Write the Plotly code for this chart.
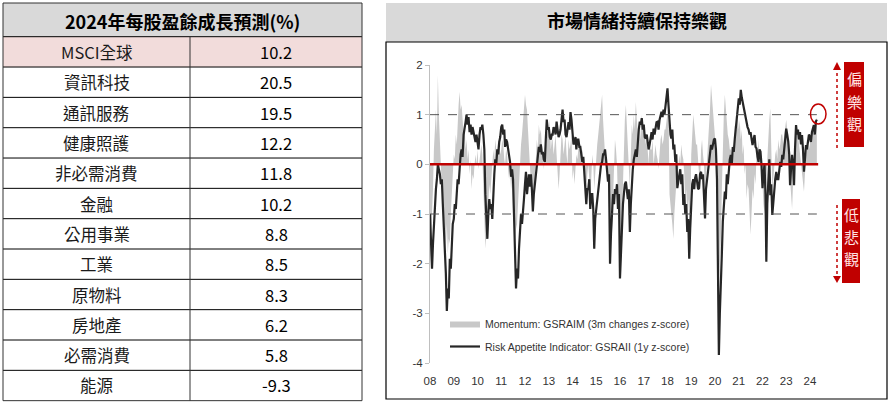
import plotly.graph_objects as go
import pandas as pd

W, H = 890, 402

# table data
table_title = "2024年每股盈餘成長預測(%)"
sectors = ["MSCI全球", "資訊科技", "通訊服務", "健康照護", "非必需消費", "金融",
           "公用事業", "工業", "原物料", "房地產", "必需消費", "能源"]
eps_growth = [10.2, 20.5, 19.5, 12.2, 11.8, 10.2, 8.8, 8.5, 8.3, 6.2, 5.8, -9.3]

# chart data, twice a month from Jan 2008
chart_title = "市場情緒持續保持樂觀"
risk_appetite = [
    # 2008
    -1.0, -1.5, -2.1, -1.6, -1.2, -0.9, -0.5, -0.3, 0.0, -0.1, -0.2, -0.4,
    -0.3, -0.8, -1.2, -1.6, -2.2, -2.95, -2.5, -2.7, -1.9, -2.1, -1.4, -1.2,
    # 2009
    -1.1, -0.8, -0.9, -0.5, -0.3, -0.4, 0.0, 0.2, 0.3, 0.15, 0.6, 0.7,
    0.85, 1.0, 0.8, 0.95, 0.65, 0.8, 0.6, 0.75, 0.65, 0.5, 0.45, 0.6,
    # 2010
    0.4, 0.3, 0.6, 0.75, 0.7, 0.8, 0.6, 0.3, -0.6, -1.15, -1.5, -1.0,
    -0.7, -0.9, -0.8, -1.1, -0.5, -0.2, 0.1, 0.0, 0.3, 0.2, 0.45, 0.55,
    # 2011
    0.75, 0.8, 0.6, 0.7, 0.35, 0.5, 0.45, 0.3, 0.15, 0.05, -0.25, -0.1,
    -0.3, -1.1, -1.9, -2.5, -2.1, -2.3, -1.7, -1.2, -1.0, -1.2, -0.8, -0.7,
    # 2012
    -0.4, -0.15, -0.6, -0.3, -0.2, -0.45, -0.2, -0.5, -0.95, -0.6, -0.4, -0.2,
    0.0, 0.2, 0.35, 0.25, 0.4, 0.2, 0.25, 0.1, 0.05, 0.5, 0.9, 0.7,
    # 2013
    0.75, 0.55, 0.5, 0.6, 0.6, 0.75, 0.7, 0.6, 0.86, 0.7, 0.55, 0.6,
    0.7, 0.9, 1.1, 0.85, 0.9, 0.6, 0.55, 0.7, 0.85, 0.7, 1.05, 0.9,
    # 2014
    0.6, 0.4, 0.45, 0.55, 0.3, 0.5, 0.5, 0.35, 0.35, 0.2, 0.05, 0.15,
    -0.15, -0.4, -0.8, -0.5, -0.5, -0.3, -0.9, -0.6, -0.6, -0.9, -1.7, -1.1,
    # 2015
    -0.9, -0.7, -0.5, -0.3, -0.2, 0.0, 0.05, 0.2, 0.2, 0.3, 0.1, -0.1,
    -0.35, -0.2, -2.0, -1.4, -1.0, -0.6, -0.8, -0.5, -0.6, -0.4, -0.9, -0.6,
    # 2016
    -2.3, -1.8, -1.1, -0.8, -0.6, -0.4, -0.35, -0.5, -0.7, -0.5, -1.36, -0.8,
    -0.35, -0.1, 0.1, 0.2, 0.3, 0.15, 0.5, 0.7, 0.86, 0.8, 0.93, 0.7,
    # 2017
    0.8, 0.55, 0.52, 0.6, 0.46, 0.3, 0.4, 0.55, 0.65, 0.5, 0.72, 0.6,
    0.75, 0.85, 0.86, 0.7, 0.9, 1.0, 1.06, 0.95, 1.1, 1.0, 1.19, 1.3,
    # 2018
    1.53, 1.2, 0.86, 0.6, 0.52, 0.7, 0.3, 0.4, 0.05, 0.2, -0.48, -0.3,
    -0.22, -0.1, -0.4, -0.2, -0.82, -0.6, -1.0, -0.8, -1.36, -1.1, -1.9, -1.3,
    # 2019
    -0.62, -0.4, -0.3, -0.5, -0.28, -0.2, -0.35, -0.5, -0.48, -0.2, -0.15, -0.3,
    -0.2, -0.6, -1.09, -0.5, -0.3, -0.1, 0.0, 0.2, 0.39, 0.3, 0.45, 0.5,
    # 2020
    0.52, 0.3, -0.3, -1.8, -3.84, -3.0, -2.5, -1.8, -1.15, -0.9, -0.55, -0.7,
    -0.2, -0.4, 0.0, 0.1, 0.19, 0.0, 0.35, 0.25, 0.52, 0.7, 0.86, 1.0,
    # 2021
    1.33, 1.2, 1.5, 1.35, 1.26, 1.1, 1.05, 0.9, 0.86, 0.75, 0.7, 0.6,
    0.65, 0.45, 0.39, 0.5, 0.59, 0.35, 0.32, 0.15, 0.05, 0.3, 0.26, 0.0,
    # 2022
    -0.48, -0.2, 0.0, -0.6, -1.96, -0.8, -0.35, 0.1, -0.62, -0.4, -1.02, -0.7,
    -0.48, -0.3, -0.15, -0.3, -0.3, -0.1, 0.05, -0.05, 0.19, 0.1, 0.3, 0.4,
    # 2023
    0.72, 0.6, 0.46, 0.2, -0.42, -0.1, 0.19, 0.0, -0.42, 0.3, 0.79, 0.6,
    0.7, 0.5, 0.65, 0.4, 0.59, 0.3, -0.15, 0.1, 0.39, 0.3, 0.46, 0.6,
    # 2024
    0.55, 0.45, 0.65, 0.75, 0.79, 0.6, 0.86, 0.9,
]
momentum = [
    # 2008
    -2.0, -1.6, -1.2, -0.5, 0.3, 0.7, 1.1, 0.6, 1.8, 1.0, 0.4, 0.0,
    -0.5, -0.8, -1.0, -1.4, -1.7, -1.2, -1.8, -1.5, -1.6, -1.0, -0.6, -0.2,
    # 2009
    0.2, 0.1, 0.6, 0.4, 1.0, 1.2, 1.46, 1.1, 1.2, 0.8, 0.6, 0.8,
    0.3, 0.5, 0.1, 0.3, -0.2, 0.1, -0.5, -0.2, -0.3, 0.0, 0.2, 0.0,
    # 2010
    0.3, -0.1, 0.1, 0.3, 0.4, 0.2, -0.5, -1.0, -1.7, -1.4, -1.3, -0.8,
    -0.4, -0.6, -0.2, 0.1, 0.3, 0.1, 0.5, 0.3, 0.3, 0.5, 0.4, 0.2,
    # 2011
    0.3, 0.5, 0.4, 0.1, 0.0, 0.3, 0.2, -0.1, -0.3, -0.1, -0.5, -0.3,
    -1.0, -0.7, -1.5, -1.3, -1.2, -0.8, -0.3, 0.0, 0.4, 0.6, 0.9, 1.1,
    # 2012
    1.4, 1.2, 1.1, 0.7, 0.3, 0.0, -0.4, -0.6, -0.8, -0.5, -0.3, 0.1,
    0.5, 0.3, 0.8, 0.6, 0.7, 0.4, 0.3, -0.1, 0.1, 0.3, 0.5, 0.7,
    # 2013
    0.6, 0.9, 0.3, 0.5, 0.5, 0.2, 0.4, 0.6, 0.2, -0.1, -0.5, -0.2,
    0.3, 0.6, 0.5, 0.2, 0.4, 0.6, 0.2, 0.0, 0.5, 0.3, 0.4, 0.6,
    # 2014
    -0.3, -0.1, -0.4, 0.0, 0.2, 0.1, 0.3, 0.5, 0.4, 0.2, 0.3, 0.1,
    -0.2, -0.4, -0.6, -0.2, 0.0, -0.3, -0.7, -0.3, 0.2, 0.0, -0.5, -0.2,
    # 2015
    0.2, 0.4, 0.6, 0.8, 1.0, 1.2, 1.4, 0.9, 0.5, 0.2, 0.0, -0.2,
    -0.4, -0.9, -1.8, -1.5, -1.3, -0.7, 0.2, 0.5, 0.3, 0.0, -0.8, -1.1,
    # 2016
    -1.5, -1.4, -1.2, -0.4, 0.6, 0.9, 1.2, 0.8, 0.4, 0.0, -0.5, 0.2,
    0.8, 0.6, 1.0, 0.7, 1.26, 0.9, 0.6, 0.4, 0.8, 0.5, 1.0, 0.8,
    # 2017
    0.8, 0.5, 0.4, 0.6, 0.2, 0.0, 0.5, 0.3, 0.3, 0.5, 0.0, 0.2,
    0.4, 0.2, 0.1, -0.1, 0.3, 0.5, 0.6, 0.4, 0.5, 0.7, 0.7, 0.9,
    # 2018
    1.0, 1.2, -0.6, -0.9, -1.0, -1.2, -1.5, -1.0, -0.6, -0.4, -0.3, 0.0,
    0.2, 0.0, 0.4, 0.2, 0.1, -0.2, -0.8, -0.5, -1.0, -0.7, -1.2, -1.4,
    # 2019
    0.2, 0.7, 1.0, 0.8, 0.6, 0.4, 0.4, 0.1, -0.3, -0.5, 0.3, 0.5,
    0.2, 0.0, -0.6, -0.3, 0.2, 0.5, 0.8, 1.1, 1.6, 1.3, 1.0, 0.8,
    # 2020
    0.6, 0.3, -0.5, -1.5, -2.5, -2.0, -1.5, -0.5, 0.6, 1.0, 1.4, 1.1,
    0.8, 0.6, 0.5, 0.3, 0.3, 0.1, 0.4, 0.2, 0.8, 0.6, 0.8, 1.0,
    # 2021
    0.7, 0.9, 0.5, 0.7, 0.2, 0.4, -0.2, 0.0, -0.7, -0.4, -0.5, -0.9,
    -1.42, -1.0, -0.5, -0.7, -0.2, -0.4, 0.2, 0.0, 0.5, 0.2, 0.3, 0.0,
    # 2022
    -0.5, -0.8, -1.0, -0.7, -0.4, 0.1, 0.6, 0.9, 1.13, 0.4, -0.5, -0.3,
    0.0, 0.2, 0.3, 0.1, 0.5, 0.3, 0.4, 0.6, 0.6, 0.4, 0.6, 0.8,
    # 2023
    0.9, 0.7, 0.5, 0.2, -0.3, -0.6, -0.9, -0.4, 0.2, 0.5, 0.8, 0.6,
    0.6, 0.4, 0.2, 0.0, -0.2, -0.4, -0.55, -0.2, 0.3, 0.5, 0.4, 0.3,
    # 2024
    0.4, 0.6, 0.5, 0.7, 0.7, 0.8, 0.85, 0.95,
]
year_labels = ["08", "09", "10", "11", "12", "13", "14", "15", "16",
               "17", "18", "19", "20", "21", "22", "23", "24"]
y_ticks = [2, 1, 0, -1, -2, -3, -4]

months = pd.date_range("2008-01-01", "2024-12-01", freq="MS")
dates = [m + pd.Timedelta(days=k) for m in months for k in (0, 15)][:len(risk_appetite)]
tick_dates = [f"20{y}-01-01" for y in year_labels]


def px(x):
    return x / W


def py(y):
    return 1 - y / H


def text_at(x, y, text, size, family, color="#000000"):
    return dict(xref="paper", yref="paper", x=px(x), y=py(y), text=text,
                xanchor="center", yanchor="middle", showarrow=False,
                font=dict(family=family, size=size, color=color))


def rect(x0, y0, x1, y1, **kw):
    return dict(type="rect", xref="paper", yref="paper",
                x0=px(x0), x1=px(x1), y0=py(y0), y1=py(y1), **kw)


def line(x0, y0, x1, y1, color, width, dash="solid"):
    return dict(type="line", xref="paper", yref="paper",
                x0=px(x0), x1=px(x1), y0=py(y0), y1=py(y1),
                line=dict(color=color, width=width, dash=dash))


CJK = "Noto Sans CJK TC"
NARROW = "Liberation Sans Narrow, Arial Narrow, Liberation Sans, sans-serif"

fig = go.Figure()

fig.add_trace(go.Scatter(
    x=dates, y=momentum, mode="lines", fill="tozeroy",
    line=dict(width=0, color="#c8c8c8"), fillcolor="#c8c8c8",
    name="Momentum: GSRAIM (3m changes z-score)", legendgroup="a",
))
fig.add_trace(go.Scatter(
    x=dates, y=risk_appetite, mode="lines",
    line=dict(width=2.2, color="#262626"),
    name="Risk Appetite Indicator: GSRAII (1y z-score)", legendgroup="b",
))

shapes = []
annotations = []

# ---- left table ----
left, mid, right = 3, 190, 362
top, head_bottom = 3, 36.7
row_h = 30.33
shapes.append(rect(left, top, right, head_bottom, fillcolor="#d9d9d9", line=dict(width=0), layer="below"))
shapes.append(rect(left, head_bottom, right, head_bottom + row_h,
                   fillcolor="#f2dcdb", line=dict(width=0), layer="below"))
annotations.append(text_at((left + right) / 2, (top + head_bottom) / 2 + 1,
                           "<b>" + table_title + "</b>", 18, CJK))
bottom = head_bottom + row_h * len(sectors)
for i, (name, val) in enumerate(zip(sectors, eps_growth)):
    y0 = head_bottom + i * row_h
    yc = y0 + row_h / 2
    annotations.append(text_at((left + mid) / 2, yc, name, 16.5, CJK, "#1a1a1a"))
    annotations.append(text_at((mid + right) / 2, yc, f"{val:.1f}", 16.5, CJK))
    shapes.append(line(left, y0, right, y0, "#000000", 1))
for yy in [top, bottom]:
    shapes.append(line(left, yy, right, yy, "#333333", 1))
for xx, ya in [(left, top), (right, top), (mid, head_bottom)]:
    shapes.append(line(xx, ya, xx, bottom, "#333333", 1))

# ---- right panel ----
pl, pr = 386, 887
shapes.append(rect(pl, 3, pr, 42, fillcolor="#d9d9d9", line=dict(width=0), layer="below"))
shapes.append(rect(pl, 42, pr, 399, line=dict(color="#000000", width=1.2), layer="below"))
annotations.append(text_at(637, 20, "<b>" + chart_title + "</b>", 18, CJK))

# reference lines
for lvl in [1, -1]:
    shapes.append(dict(type="line", xref="x", yref="y",
                       x0=dates[0], x1=dates[-1], y0=lvl, y1=lvl,
                       line=dict(color="#555555", width=1, dash="dash")))
shapes.append(dict(type="line", xref="x", yref="y",
                   x0=dates[0], x1=dates[-1] + pd.Timedelta(days=20), y0=0, y1=0,
                   line=dict(color="#c00000", width=2.5)))

# circle around latest reading
red = "#c00000"
shapes.append(dict(type="circle", xref="paper", yref="paper",
                   x0=px(810.5), x1=px(826), y0=py(104), y1=py(124),
                   line=dict(color=red, width=1.5)))

# dotted arrows and side labels
shapes.append(line(837, 148, 837, 68, red, 1.5, "dot"))
shapes.append(dict(type="path", xref="paper", yref="paper",
                   path=f"M {px(833)} {py(70)} L {px(841)} {py(70)} L {px(837)} {py(62)} Z",
                   fillcolor=red, line=dict(width=0)))
shapes.append(line(837, 205, 837, 277, red, 1.5, "dot"))
shapes.append(dict(type="path", xref="paper", yref="paper",
                   path=f"M {px(833)} {py(276)} L {px(841)} {py(276)} L {px(837)} {py(283)} Z",
                   fillcolor=red, line=dict(width=0)))
side_labels = [("偏樂觀", 844, 864, 62, 147, 79), ("低悲觀", 842, 860, 199, 283, 214)]
for label, bx0, bx1, by0, by1, first in side_labels:
    shapes.append(rect(bx0, by0, bx1, by1, fillcolor=red, line=dict(width=0)))
    for k, ch in enumerate(label):
        annotations.append(text_at((bx0 + bx1) / 2, first + 22 * k, ch, 15, CJK, "#ffe4e4"))

fig.update_layout(
    width=W, height=H,
    margin=dict(l=0, r=0, t=0, b=0, autoexpand=False),
    paper_bgcolor="white", plot_bgcolor="white",
    shapes=shapes, annotations=annotations,
    showlegend=True,
    legend=dict(x=px(445), y=py(309), xanchor="left", yanchor="top",
                bgcolor="rgba(0,0,0,0)", tracegroupgap=4, itemwidth=30,
                font=dict(family=NARROW, size=10.5, color="#333333")),
    xaxis=dict(domain=[px(430), px(833.75)], type="date",
               range=["2008-01-01", "2025-01-01"],
               tickvals=tick_dates, ticktext=year_labels,
               ticks="outside", ticklen=7, tickcolor="rgba(0,0,0,0)",
               showgrid=False, zeroline=False, showline=False,
               tickfont=dict(family=NARROW, size=11.5, color="#333333")),
    yaxis=dict(domain=[py(363), py(65)], range=[-4, 2],
               tickvals=y_ticks, ticktext=[str(v) for v in y_ticks],
               ticks="outside", ticklen=4, tickcolor="#bfbfbf",
               showline=True, linecolor="#bfbfbf", linewidth=1,
               showgrid=False, zeroline=False,
               tickfont=dict(family=NARROW, size=11.5, color="#333333")),
)

fig.write_html("out.html", config={"displayModeBar": False},
               post_script="document.body.style.margin = '0';")
